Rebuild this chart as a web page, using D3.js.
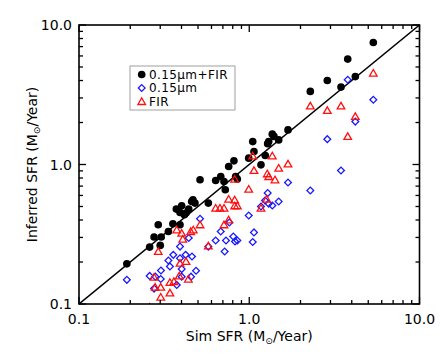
<!DOCTYPE html>
<html>
<head>
<meta charset="utf-8">
<script src="https://cdn.jsdelivr.net/npm/d3@7/dist/d3.min.js"></script>
<style>
  body { margin: 0; background: #fff; }
  text { font-family: "DejaVu Sans", sans-serif; fill: #000; }
</style>
</head>
<body>
<div id="chart"></div>
<script>
// Sim SFR vs inferred SFR, three estimators
const combX = [0.191,0.260,0.276,0.292,0.304,0.300,0.335,0.356,0.373,0.392,0.401,0.392,0.416,0.425,0.441,0.459,0.467,0.480,0.514,0.575,0.635,0.680,0.711,0.723,0.757,0.813,0.832,0.851,0.993,1.048,1.066,1.172,1.242,1.283,1.301,1.366,1.397,1.489,1.689,2.284,2.874,3.459,3.788,4.198,5.354];
const combY = [0.194,0.256,0.302,0.370,0.302,0.263,0.331,0.376,0.479,0.370,0.506,0.453,0.436,0.449,0.479,0.543,0.558,0.529,0.777,0.529,0.768,0.820,0.755,0.659,0.968,1.063,0.820,0.786,1.110,1.460,1.240,0.995,1.160,1.410,1.460,1.650,1.590,1.500,1.770,3.340,4.000,3.590,5.700,4.270,7.490];

const uvX = [0.191,0.260,0.281,0.276,0.303,0.302,0.335,0.342,0.358,0.375,0.392,0.392,0.401,0.401,0.423,0.441,0.461,0.455,0.487,0.514,0.575,0.635,0.680,0.717,0.730,0.764,0.806,0.825,0.851,0.993,1.048,1.066,1.172,1.238,1.283,1.301,1.366,1.489,1.689,2.284,2.874,3.459,3.788,4.198,5.354];
const uvY = [0.149,0.159,0.157,0.129,0.174,0.151,0.205,0.186,0.225,0.137,0.258,0.213,0.157,0.178,0.225,0.297,0.219,0.157,0.173,0.408,0.258,0.285,0.331,0.238,0.285,0.384,0.305,0.281,0.285,0.431,0.278,0.326,0.500,0.552,0.624,0.523,0.508,0.543,0.743,0.651,1.520,0.906,4.050,2.030,2.910];

const firX = [0.276,0.292,0.280,0.302,0.302,0.342,0.342,0.361,0.375,0.388,0.392,0.401,0.407,0.425,0.439,0.453,0.469,0.514,0.575,0.635,0.673,0.711,0.711,0.757,0.757,0.821,0.821,0.851,0.821,0.993,1.048,1.066,1.172,1.266,1.276,1.301,1.366,1.416,1.489,1.689,2.284,2.874,3.459,3.788,4.198,5.354,0.260];
const firY = [0.156,0.238,0.132,0.132,0.112,0.120,0.143,0.145,0.340,0.159,0.196,0.322,0.292,0.202,0.151,0.331,0.340,0.370,0.261,0.487,0.487,0.487,0.370,0.565,0.401,0.506,0.558,0.506,0.786,0.666,1.154,0.906,0.487,0.565,0.858,0.820,1.154,0.777,0.942,1.010,2.630,2.440,2.630,1.590,2.210,4.520,0.095];

const tickValues = [0.1, 1, 10];
const tickLabels = ["0.1", "1.0", "10.0"];
const legendLabels = ["0.15\u03bcm+FIR", "0.15\u03bcm", "FIR"];

const width = 443, height = 355;
const margin = { left: 79, right: 23.5, top: 25, bottom: 51 };

const svg = d3.select("#chart").append("svg")
  .attr("width", width)
  .attr("height", height);

const x = d3.scaleLog().domain([0.1, 10]).range([margin.left, width - margin.right]);
const y = d3.scaleLog().domain([0.1, 10]).range([height - margin.bottom, margin.top]);

const x0 = margin.left, x1 = width - margin.right;
const y0 = height - margin.bottom, y1 = margin.top;

// clip for the data area
svg.append("defs").append("clipPath").attr("id", "clip")
  .append("rect")
  .attr("x", x0).attr("y", y1)
  .attr("width", x1 - x0).attr("height", y0 - y1);

const plot = svg.append("g").attr("clip-path", "url(#clip)");

// 1:1 line
plot.append("line")
  .attr("x1", x(0.1)).attr("y1", y(0.1))
  .attr("x2", x(10)).attr("y2", y(10))
  .attr("stroke", "#000")
  .attr("stroke-width", 1.5);

const circleSym = d3.symbol().type(d3.symbolCircle).size(46);
const diamondSym = d3.symbol().type(d3.symbolSquare).size(23);
const triSym = d3.symbol().type(d3.symbolTriangle).size(25);

plot.selectAll(".comb")
  .data(combX.map((v, i) => [v, combY[i]]))
  .enter().append("path")
  .attr("d", circleSym)
  .attr("transform", d => `translate(${x(d[0])},${y(d[1])})`)
  .attr("fill", "#000");

plot.selectAll(".uv")
  .data(uvX.map((v, i) => [v, uvY[i]]))
  .enter().append("path")
  .attr("d", diamondSym)
  .attr("transform", d => `translate(${x(d[0])},${y(d[1])}) rotate(45)`)
  .attr("fill", "none")
  .attr("stroke", "#1a1aff")
  .attr("stroke-width", 1.3);

plot.selectAll(".fir")
  .data(firX.map((v, i) => [v, firY[i]]))
  .enter().append("path")
  .attr("d", triSym)
  .attr("transform", d => `translate(${x(d[0])},${y(d[1]) + 0.8})`)
  .attr("fill", "none")
  .attr("stroke", "#ff1010")
  .attr("stroke-width", 1.3);

// axes: ticks inward on all four sides
const minor = [];
[0.1, 1].forEach(dec => { for (let k = 2; k <= 9; k++) minor.push(dec * k); });

const axes = svg.append("g").attr("stroke", "#000").attr("stroke-width", 1.3);

tickValues.concat(minor).forEach(v => {
  const len = tickValues.includes(v) ? 7 : 4;
  const px = x(v), py = y(v);
  axes.append("line").attr("x1", px).attr("x2", px).attr("y1", y0).attr("y2", y0 - len);
  axes.append("line").attr("x1", px).attr("x2", px).attr("y1", y1).attr("y2", y1 + len);
  axes.append("line").attr("y1", py).attr("y2", py).attr("x1", x0).attr("x2", x0 + len);
  axes.append("line").attr("y1", py).attr("y2", py).attr("x1", x1).attr("x2", x1 - len);
});

svg.append("rect")
  .attr("x", x0).attr("y", y1)
  .attr("width", x1 - x0).attr("height", y0 - y1)
  .attr("fill", "none")
  .attr("stroke", "#000")
  .attr("stroke-width", 1.6);

// tick labels
svg.selectAll(".xlab")
  .data(tickValues)
  .enter().append("text")
  .attr("x", d => x(d))
  .attr("y", y0 + 20)
  .attr("text-anchor", "middle")
  .style("font-size", "14px")
  .text((d, i) => tickLabels[i]);

svg.selectAll(".ylab")
  .data(tickValues)
  .enter().append("text")
  .attr("x", x0 - 7)
  .attr("y", d => y(d))
  .attr("dy", "0.36em")
  .attr("text-anchor", "end")
  .style("font-size", "14px")
  .text((d, i) => tickLabels[i]);

// axis titles with subscript sun symbol
function title(sel, pre) {
  sel.append("tspan").text(pre + " (M");
  sel.append("tspan").attr("dy", 3).style("font-size", "9px").text("\u2299");
  sel.append("tspan").attr("dy", -3).text("/Year)");
}

svg.append("text")
  .attr("x", (x0 + x1) / 2)
  .attr("y", 341)
  .attr("text-anchor", "middle")
  .style("font-size", "14px")
  .call(title, "Sim SFR");

svg.append("text")
  .attr("transform", `translate(37,${(y0 + y1) / 2}) rotate(-90)`)
  .attr("text-anchor", "middle")
  .style("font-size", "14px")
  .call(title, "Inferred SFR");

// legend
const lg = svg.append("g");
lg.append("rect")
  .attr("x", 130).attr("y", 66)
  .attr("width", 105).attr("height", 44)
  .attr("fill", "#fff")
  .attr("stroke", "#a0a0a0")
  .attr("stroke-width", 1);

const rows = [74.5, 88, 101.5];
lg.append("path").attr("d", circleSym).attr("transform", `translate(141.7,${rows[0]})`).attr("fill", "#000");
lg.append("path").attr("d", diamondSym).attr("transform", `translate(141.7,${rows[1]}) rotate(45)`)
  .attr("fill", "none").attr("stroke", "#1a1aff").attr("stroke-width", 1.3);
lg.append("path").attr("d", triSym).attr("transform", `translate(141.7,${rows[2] + 0.8})`)
  .attr("fill", "none").attr("stroke", "#ff1010").attr("stroke-width", 1.3);

lg.selectAll(".ltext")
  .data(legendLabels)
  .enter().append("text")
  .attr("x", 149)
  .attr("y", (d, i) => rows[i])
  .attr("dy", "0.36em")
  .style("font-size", "12px")
  .style("letter-spacing", "0.4px")
  .text(d => d);
</script>
</body>
</html>
